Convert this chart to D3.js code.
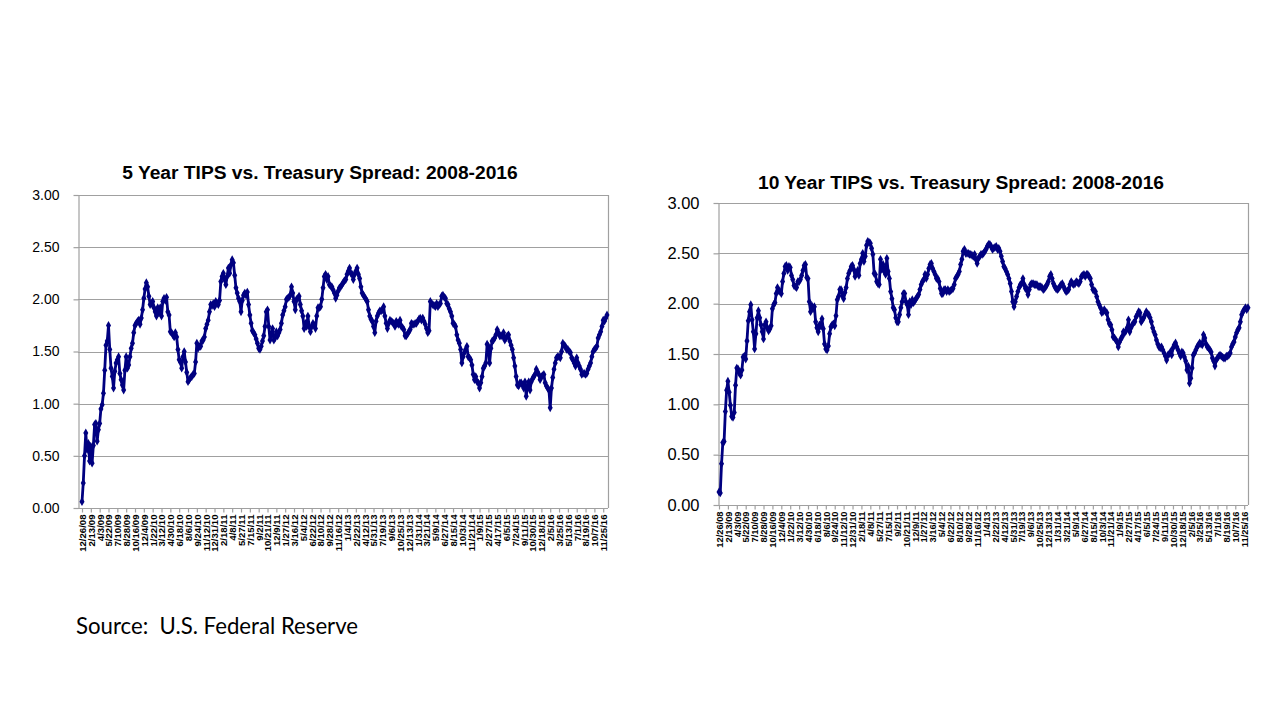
<!DOCTYPE html>
<html><head><meta charset="utf-8">
<script src="https://cdn.jsdelivr.net/npm/d3@7"></script>
<style>body{margin:0;background:#fff}</style>
</head><body>
<svg id="c" width="1280" height="720"></svg>
<script>
// ---------- DATA ----------
const startDate = "2008-12-26";   // weekly observations (Fridays)
const labelEvery = 7;              // one axis label every 7 weeks

const tickLabels = ["12/26/08","2/13/09","4/3/09","5/22/09","7/10/09","8/28/09","10/16/09","12/4/09",
"1/22/10","3/12/10","4/30/10","6/18/10","8/6/10","9/24/10","11/12/10","12/31/10","2/18/11","4/8/11",
"5/27/11","7/15/11","9/2/11","10/21/11","12/9/11","1/27/12","3/16/12","5/4/12","6/22/12","8/10/12",
"9/28/12","11/16/12","1/4/13","2/22/13","4/12/13","5/31/13","7/19/13","9/6/13","10/25/13","12/13/13",
"1/31/14","3/21/14","5/9/14","6/27/14","8/15/14","10/3/14","11/21/14","1/9/15","2/27/15","4/17/15",
"6/5/15","7/24/15","9/11/15","10/30/15","12/18/15","2/5/16","3/25/16","5/13/16","7/1/16","8/19/16",
"10/7/16","11/25/16"];

const fiveYear = [
0.06,0.24,0.50,0.72,0.56,0.62,0.45,
0.59,0.43,0.60,0.80,0.81,0.64,0.75,
0.81,0.95,0.99,1.10,1.32,1.56,1.60,
1.75,1.52,1.34,1.26,1.15,1.31,1.39,
1.42,1.45,1.29,1.23,1.18,1.13,1.32,
1.45,1.34,1.37,1.45,1.53,1.58,1.68,
1.75,1.77,1.79,1.80,1.76,1.82,1.90,
2.01,2.10,2.16,2.12,2.03,1.95,1.96,
1.98,1.92,1.88,1.84,1.92,1.87,1.92,
1.84,1.98,2.01,1.99,2.02,1.88,1.85,
1.69,1.68,1.66,1.64,1.68,1.64,1.52,
1.42,1.40,1.34,1.45,1.50,1.40,1.30,
1.21,1.23,1.25,1.26,1.28,1.29,1.40,
1.58,1.53,1.55,1.55,1.60,1.61,1.64,
1.72,1.76,1.80,1.88,1.95,1.94,1.96,
1.93,1.98,1.96,1.95,1.99,2.17,2.22,
2.25,2.19,2.14,2.22,2.30,2.25,2.33,
2.38,2.35,2.23,2.11,2.06,2.01,1.98,
1.88,1.99,2.04,2.06,2.04,2.07,1.95,
1.85,1.77,1.70,1.68,1.66,1.62,1.58,
1.53,1.52,1.55,1.60,1.65,1.74,1.88,
1.90,1.74,1.61,1.66,1.72,1.61,1.63,
1.69,1.65,1.68,1.71,1.77,1.85,1.89,
1.93,2.00,2.01,2.02,2.04,2.12,2.06,
1.98,1.90,2.00,2.01,2.03,1.95,1.89,
1.84,1.72,1.77,1.74,1.84,1.74,1.69,
1.74,1.77,1.75,1.72,1.84,1.92,1.92,
1.93,2.00,2.11,2.22,2.24,2.19,2.22,
2.14,2.13,2.12,2.09,2.06,2.01,2.04,
2.08,2.11,2.12,2.14,2.16,2.18,2.19,
2.24,2.27,2.30,2.25,2.24,2.19,2.24,
2.27,2.30,2.24,2.20,2.12,2.06,2.04,
2.02,2.00,1.98,1.90,1.84,1.81,1.79,
1.74,1.68,1.79,1.84,1.87,1.89,1.89,
1.90,1.93,1.84,1.77,1.72,1.77,1.80,
1.79,1.78,1.77,1.74,1.79,1.77,1.76,
1.80,1.74,1.73,1.71,1.65,1.65,1.67,
1.69,1.71,1.77,1.76,1.76,1.77,1.77,
1.79,1.81,1.82,1.80,1.82,1.79,1.76,
1.72,1.68,1.70,1.98,1.96,1.95,1.94,
1.93,1.96,1.93,1.95,1.96,2.03,2.04,
2.02,2.01,1.96,1.95,1.91,1.88,1.84,
1.77,1.76,1.74,1.66,1.61,1.58,1.52,
1.39,1.45,1.49,1.52,1.55,1.45,1.44,
1.42,1.37,1.28,1.23,1.26,1.21,1.20,
1.15,1.20,1.26,1.34,1.36,1.39,1.57,
1.55,1.39,1.53,1.60,1.61,1.63,1.66,
1.71,1.68,1.65,1.65,1.65,1.68,1.61,
1.63,1.65,1.66,1.60,1.56,1.52,1.44,
1.36,1.26,1.18,1.17,1.20,1.20,1.18,
1.15,1.21,1.07,1.17,1.21,1.13,1.21,
1.24,1.26,1.28,1.33,1.30,1.28,1.23,
1.26,1.27,1.28,1.20,1.17,1.15,1.13,
0.96,1.15,1.25,1.33,1.39,1.44,1.45,
1.45,1.44,1.50,1.58,1.56,1.55,1.52,
1.52,1.50,1.49,1.44,1.42,1.39,1.36,
1.44,1.39,1.36,1.33,1.28,1.29,1.29,
1.28,1.29,1.33,1.36,1.39,1.45,1.50,
1.52,1.53,1.55,1.63,1.66,1.69,1.74,
1.80,1.79,1.82,1.85];

const tenYear = [
0.13,0.12,0.41,0.62,0.63,0.93,1.14,
1.23,1.12,0.99,0.88,0.87,0.92,1.19,
1.36,1.35,1.31,1.29,1.34,1.47,1.48,
1.45,1.63,1.83,1.92,1.99,1.84,1.72,
1.55,1.70,1.86,1.93,1.86,1.79,1.72,
1.65,1.79,1.82,1.76,1.73,1.75,1.78,
1.95,1.99,2.01,2.10,2.16,2.13,2.12,
2.10,2.22,2.30,2.37,2.38,2.33,2.37,
2.36,2.28,2.24,2.18,2.17,2.16,2.22,
2.22,2.24,2.28,2.33,2.38,2.39,2.26,
2.25,2.02,1.92,1.98,1.95,1.97,1.82,
1.76,1.72,1.79,1.78,1.85,1.75,1.60,
1.55,1.54,1.58,1.70,1.77,1.79,1.80,
1.78,1.88,2.04,2.07,2.14,2.14,2.08,
2.05,2.11,2.16,2.25,2.30,2.33,2.37,
2.38,2.34,2.27,2.30,2.33,2.28,2.40,
2.44,2.50,2.42,2.47,2.58,2.62,2.61,
2.60,2.55,2.49,2.30,2.29,2.22,2.20,
2.19,2.44,2.34,2.39,2.32,2.29,2.45,
2.32,2.25,2.12,2.05,1.96,1.94,1.86,
1.82,1.82,1.89,1.96,2.02,2.10,2.10,
2.02,1.99,1.89,2.02,1.99,2.04,2.01,
2.03,2.05,2.07,2.09,2.14,2.19,2.22,
2.24,2.29,2.25,2.29,2.35,2.39,2.40,
2.35,2.32,2.29,2.25,2.25,2.22,2.15,
2.10,2.10,2.14,2.14,2.12,2.14,2.12,
2.13,2.14,2.15,2.19,2.25,2.27,2.29,
2.32,2.39,2.44,2.52,2.54,2.50,2.50,
2.50,2.49,2.49,2.48,2.47,2.49,2.44,
2.40,2.45,2.47,2.49,2.49,2.50,2.52,
2.54,2.57,2.59,2.59,2.57,2.54,2.55,
2.56,2.57,2.54,2.55,2.52,2.47,2.42,
2.37,2.35,2.32,2.29,2.25,2.20,2.12,
2.02,1.97,2.02,2.07,2.12,2.16,2.19,
2.20,2.25,2.19,2.15,2.15,2.09,2.14,
2.19,2.20,2.20,2.19,2.19,2.19,2.17,
2.17,2.17,2.16,2.14,2.15,2.17,2.19,
2.22,2.27,2.29,2.25,2.20,2.17,2.15,
2.14,2.15,2.17,2.19,2.20,2.17,2.14,
2.12,2.13,2.14,2.19,2.22,2.20,2.19,
2.20,2.22,2.21,2.20,2.22,2.27,2.28,
2.29,2.27,2.29,2.29,2.27,2.25,2.19,
2.14,2.13,2.12,2.07,2.02,1.99,1.96,
1.91,1.92,1.94,1.92,1.91,1.84,1.80,
1.79,1.74,1.67,1.66,1.64,1.62,1.57,
1.62,1.65,1.67,1.72,1.71,1.73,1.76,
1.84,1.72,1.76,1.79,1.81,1.82,1.87,
1.89,1.92,1.91,1.82,1.84,1.86,1.89,
1.92,1.90,1.89,1.86,1.82,1.76,1.72,
1.69,1.64,1.60,1.57,1.56,1.57,1.54,
1.51,1.48,1.44,1.49,1.50,1.52,1.49,
1.56,1.59,1.61,1.57,1.54,1.51,1.48,
1.52,1.51,1.47,1.43,1.34,1.38,1.21,
1.26,1.36,1.49,1.51,1.54,1.57,1.59,
1.61,1.60,1.59,1.69,1.66,1.60,1.57,
1.56,1.54,1.52,1.46,1.43,1.38,1.44,
1.46,1.48,1.49,1.48,1.47,1.46,1.46,
1.48,1.48,1.49,1.51,1.57,1.60,1.62,
1.67,1.71,1.74,1.76,1.82,1.89,1.92,
1.94,1.96,1.94,1.96];

const yTicks = [0, 0.5, 1, 1.5, 2, 2.5, 3];
const titles = ["5 Year TIPS vs. Treasury Spread: 2008-2016", "10 Year TIPS vs. Treasury Spread: 2008-2016"];
const sourceText = "Source:  U.S. Federal Reserve";

// ---------- LAYOUT ----------
const charts = [
  { values: fiveYear, title: titles[0], box: {l:78, r:608, t:195, b:508}, pad:{l:4, r:1},
    titleX: 320, titleY: 179, yFont: 14, yGap: 19, xFont: 9.6 },
  { values: tenYear, title: titles[1], box: {l:718, r:1248, t:203, b:505}, pad:{l:1, r:0},
    titleX: 961, titleY: 189, yFont: 16.5, yGap: 19, xFont: 9.3 }
];

const svg = d3.select("#c");
const navy = "#000080", grid = "#a0a0a0";
const fmt = d3.timeFormat("%-m/%-d/%y");
const start = d3.timeParse("%Y-%m-%d")(startDate);

charts.forEach(c => {
  const n = c.values.length;
  const idx = d3.range(n);
  const dates = idx.map(i => d3.timeDay.offset(start, 7*i));
  const x = d3.scalePoint().domain(idx).range([c.box.l + c.pad.l, c.box.r - c.pad.r]);
  const y = d3.scaleLinear().domain([0, 3]).range([c.box.b, c.box.t]);
  const g = svg.append("g");

  // gridlines
  g.append("g").selectAll("line").data(yTicks.filter(d => d > 0)).join("line")
    .attr("x1", c.box.l).attr("x2", c.box.r)
    .attr("y1", d => Math.round(y(d)) + 0.5).attr("y2", d => Math.round(y(d)) + 0.5)
    .attr("stroke", grid).attr("stroke-width", 1.2);
  // right border
  g.append("line").attr("x1", c.box.r + 0.5).attr("x2", c.box.r + 0.5)
    .attr("y1", c.box.t).attr("y2", c.box.b).attr("stroke", grid).attr("stroke-width", 1.2);

  // y axis
  const ya = g.append("g").attr("transform", `translate(${c.box.l + 0.5},0)`)
    .call(d3.axisLeft(y).tickValues(yTicks).tickFormat(d3.format(".2f")).tickSize(5).tickSizeOuter(0));
  ya.selectAll("path,line").attr("stroke", grid).attr("stroke-width", 1.2);
  ya.selectAll("text").attr("font-family", "Liberation Sans, Arial, sans-serif")
    .attr("font-size", c.yFont).attr("fill", "#000").attr("x", -c.yGap);

  // x axis
  const tickIdx = idx.filter(i => i % labelEvery === 0);
  const xa = g.append("g").attr("transform", `translate(0,${c.box.b + 0.5})`)
    .call(d3.axisBottom(x).tickValues(tickIdx)
      .tickFormat(i => tickLabels[i / labelEvery] || fmt(dates[i])).tickSize(4).tickSizeOuter(0));
  xa.select("path").attr("d", `M${c.box.l},0H${c.box.r}`);
  xa.selectAll("path,line").attr("stroke", grid).attr("stroke-width", 1.2);
  xa.selectAll("text").attr("font-family", "Liberation Sans, Arial, sans-serif")
    .attr("font-weight", "bold").attr("font-size", c.xFont).attr("fill", "#000")
    .attr("text-anchor", "end").attr("transform", "rotate(-90)")
    .attr("x", -6).attr("y", 0).attr("dy", "0.35em");

  // line + markers
  const line = d3.line().x((d, i) => x(i)).y(d => y(d));
  g.append("path").datum(c.values).attr("d", line).attr("fill", "none")
    .attr("stroke", navy).attr("stroke-width", 2.8).attr("stroke-linejoin", "round");
  g.append("g").selectAll("path").data(c.values).join("path")
    .attr("transform", (d, i) => `translate(${x(i)},${y(d)})`)
    .attr("d", d3.symbol(d3.symbolDiamond, 22)).attr("fill", navy);

  // title
  svg.append("text").attr("x", c.titleX).attr("y", c.titleY).attr("text-anchor", "middle")
    .attr("font-family", "Liberation Sans, Arial, sans-serif").attr("font-weight", "bold")
    .attr("font-size", 19.2).text(c.title);
});

svg.append("text").attr("x", 76).attr("y", 634).attr("font-family", "Lato, sans-serif")
  .attr("font-size", 22.2).attr("fill", "#000").style("white-space", "pre").text(sourceText);
</script>
</body></html>
